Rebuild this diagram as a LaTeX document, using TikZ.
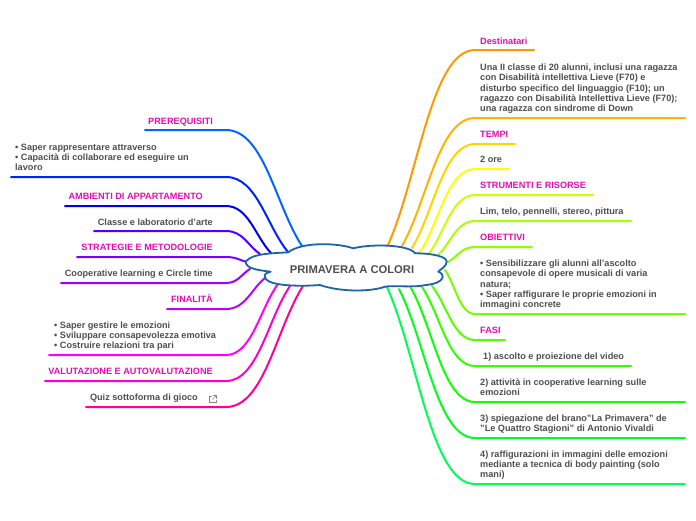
\documentclass[tikz,border=0pt]{standalone}
\usepackage{fontspec}
\setmainfont[Ligatures=ResetAll]{Liberation Sans}
\usetikzlibrary{calc}
\definecolor{inkgray}{RGB}{78,78,78}
\definecolor{headpink}{RGB}{226,12,178}
\definecolor{cloudblue}{RGB}{26,100,170}
\definecolor{rA}{RGB}{255,153,0}
\definecolor{rB}{RGB}{255,179,0}
\definecolor{rC}{RGB}{255,213,0}
\definecolor{rD}{RGB}{255,255,0}
\definecolor{rE}{RGB}{204,255,0}
\definecolor{rF}{RGB}{170,255,0}
\definecolor{rG}{RGB}{140,255,0}
\definecolor{rH}{RGB}{119,255,0}
\definecolor{rI}{RGB}{85,255,0}
\definecolor{rJ}{RGB}{51,255,0}
\definecolor{rK}{RGB}{17,255,0}
\definecolor{rL}{RGB}{0,255,26}
\definecolor{rM}{RGB}{0,255,85}
\definecolor{lA}{RGB}{0,102,255}
\definecolor{lB}{RGB}{0,34,255}
\definecolor{lC}{RGB}{0,0,230}
\definecolor{lD}{RGB}{85,0,255}
\definecolor{lE}{RGB}{119,0,255}
\definecolor{lF}{RGB}{153,0,255}
\definecolor{lG}{RGB}{187,0,255}
\definecolor{lH}{RGB}{255,0,255}
\definecolor{lI}{RGB}{255,0,204}
\definecolor{lJ}{RGB}{255,0,153}

\begin{document}
\begin{tikzpicture}[
  x=1pt,y=-1pt,
  line cap=round,line join=round,
  head/.style={font=\fontsize{9.15}{10.3}\selectfont\bfseries,text=headpink,inner sep=0pt,text depth=0pt},
  txt/.style={font=\fontsize{9.15}{10.3}\selectfont\bfseries,text=inkgray,inner sep=0pt,text depth=0pt,align=left},
  branch/.style={draw=#1,line width=2pt}
]
\useasboundingbox (0,0) rectangle (696,520);

% right side branches
\foreach \nm/\col/\sx/\sy/\ey/\ex in {
 dest/rA/388/245/50/534,classe/rB/402/246/118/685,tempi/rC/412/248/144/515,
 ore/rD/420/252/169/509,strumenti/rE/428/255/195/593,lim/rF/438/255/221/631,
 obiettivi/rG/448/262/247/532,sens/rH/445/270/314/685,fasi/rI/432/286/340/505,
 uno/rJ/422/287/366/631,due/rK/411/288/402/685,tre/rL/399/289/438/685,
 quattro/rM/387/287/484/685}{
  \coordinate (\nm-root) at (\sx,\sy);
  \coordinate (\nm-end) at (\ex,\ey);
  \draw[branch=\col] (\nm-root)
    .. controls (\sx+.35*475-.35*\sx,\sy+.35*\ey-.35*\sy) and (\sx*.5+237.5,\ey) .. (475,\ey)
    -- (\nm-end);
}

% left side branches
\foreach \nm/\col/\sx/\sy/\ey/\ex in {
 prereq/lA/302/246/130/145,saper/lB/288/252/177/11,ambienti/lC/271/253/206/65,
 lab/lD/260/254/231/94,strategie/lE/247/262/257/77,coop/lF/250/269/283/61,
 finalita/lG/265/278/309/167,gestire/lH/278/284/355/49,valut/lI/290/286/381/45,
 quiz/lJ/303/286/407/86}{
  \coordinate (\nm-root) at (\sx,\sy);
  \coordinate (\nm-end) at (\ex,\ey);
  \draw[branch=\col] (\nm-root)
    .. controls (\sx-.35*\sx+.35*226,\sy+.35*\ey-.35*\sy) and (\sx*.5+113,\ey) .. (226,\ey)
    -- (\nm-end);
}

% cloud
\draw[draw=cloudblue,fill=white,line width=1.8pt]
  (245.7,261.7)
  .. controls (251.7,253.3) and (273.3,253.3) .. (288.3,252.3)
  .. controls (301.7,241.7) and (336.7,242.7) .. (353.3,248.3)
  .. controls (373.3,243.3) and (410,245) .. (415,253.3)
  .. controls (433.3,253.3) and (446.7,256.7) .. (446.7,261.7)
  .. controls (446.7,266.7) and (440,269.3) .. (438.3,271.7)
  .. controls (445,274) and (446,283) .. (426,285)
  .. controls (410,288) and (395,285) .. (385,286.7)
  .. controls (370,292) and (340,292) .. (320,285)
  .. controls (293,287) and (265,285) .. (265,276.7)
  .. controls (263,274) and (268,272.5) .. (270.7,271.7)
  .. controls (256,270) and (245.7,268) .. (245.7,261.7)--cycle;
\node[font=\fontsize{11.2}{12}\selectfont\bfseries,text=inkgray,inner sep=0pt] (title) at (352,270) {PRIMAVERA A COLORI};

% right side texts
\node[head,anchor=south west] (destT) at (480,45) {Destinatari};
\node[txt,anchor=south west] (classeT) at (480,112) {Una II classe di 20 alunni, inclusi una ragazza\\con Disabilità intellettiva Lieve (F70) e\\disturbo specifico del linguaggio (F10); un\\ragazzo con Disabilità Intellettiva Lieve (F70);\\una ragazza con sindrome di Down};
\node[head,anchor=south west] (tempiT) at (480,138) {TEMPI};
\node[txt,anchor=south west] (oreT) at (480,163) {2 ore};
\node[head,anchor=south west] (strumentiT) at (480,189) {STRUMENTI E RISORSE};
\node[txt,anchor=south west] (limT) at (480,215) {Lim, telo, pennelli, stereo, pittura};
\node[head,anchor=south west] (obiettiviT) at (480,241) {OBIETTIVI};
\node[txt,anchor=south west] (sensT) at (480,308) {• Sensibilizzare gli alunni all'ascolto\\consapevole di opere musicali di varia\\natura;\\• Saper raffigurare le proprie emozioni in\\immagini concrete};
\node[head,anchor=south west] (fasiT) at (480,334) {FASI};
\node[txt,anchor=south west] (unoT) at (483,360) {1) ascolto e proiezione del video};
\node[txt,anchor=south west] (dueT) at (480,396) {2) attività in cooperative learning sulle\\emozioni};
\node[txt,anchor=south west] (treT) at (480,432) {3) spiegazione del brano"La Primavera" de\\"Le Quattro Stagioni" di Antonio Vivaldi};
\node[txt,anchor=south west] (quattroT) at (480,478) {4) raffigurazioni in immagini delle emozioni\\mediante a tecnica di body painting (solo\\mani)};

% left side texts
\node[head,anchor=south east] (prereqT) at (213,125) {PREREQUISITI};
\node[txt,anchor=south west] (saperT) at (15,171) {• Saper rappresentare attraverso\\• Capacità di collaborare ed eseguire un\\lavoro};
\node[head,anchor=south east] (ambientiT) at (203,200) {AMBIENTI DI APPARTAMENTO};
\node[txt,anchor=south east] (labT) at (213,226) {Classe e laboratorio d'arte};
\node[head,anchor=south east] (strategieT) at (213,251) {STRATEGIE E METODOLOGIE};
\node[txt,anchor=south east] (coopT) at (213,277) {Cooperative learning e Circle time};
\node[head,anchor=south east] (finalitaT) at (213,303) {FINALITÀ};
\node[txt,anchor=south west] (gestireT) at (54,349) {• Saper gestire le emozioni\\• Sviluppare consapevolezza emotiva\\• Costruire relazioni tra pari};
\node[head,anchor=south east] (valutT) at (213,375) {VALUTAZIONE E AUTOVALUTAZIONE};
\node[txt,anchor=south east] (quizT) at (198,401) {Quiz sottoforma di gioco};

% link icon
\draw[inkgray!70,line width=.6pt] (211.5,396) -- (209.5,396) -- (209.5,402.5) -- (216,402.5) -- (216,400.5);
\draw[inkgray!70,line width=.6pt] (212.5,399.5) -- (216,396) (213.5,395.5) -- (216.5,395.5) -- (216.5,398.5);
\end{tikzpicture}
\end{document}
